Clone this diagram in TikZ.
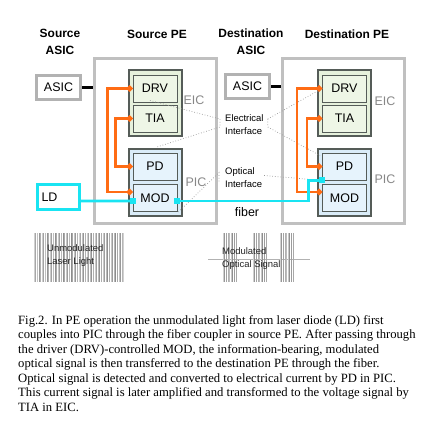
\documentclass[tikz,border=0pt]{standalone}
\usepackage{fontspec}
\setmainfont{Liberation Serif}
\newfontfamily\diagfont{Liberation Sans}
\usetikzlibrary{calc,arrows.meta}
\definecolor{peframe}{RGB}{192,192,192}
\definecolor{asicframe}{RGB}{178,178,178}
\definecolor{modframe}{RGB}{85,92,88}
\definecolor{eicfill}{RGB}{230,241,220}
\definecolor{eicinner}{RGB}{238,246,230}
\definecolor{picfill}{RGB}{218,236,248}
\definecolor{picinner}{RGB}{230,243,252}
\definecolor{elecline}{RGB}{255,108,20}
\definecolor{optline}{RGB}{25,228,242}
\definecolor{tagtext}{RGB}{135,135,135}
\definecolor{hintline}{RGB}{150,150,150}

\begin{document}
\begin{tikzpicture}[x=1bp,y=-1bp,
    every node/.style={font=\diagfont},
    title/.style={font=\diagfont\bfseries\fontsize{12}{17}\selectfont,align=center},
    pebox/.style={draw=peframe,line width=3bp,minimum width=122bp,minimum height=165bp,inner sep=0pt},
    asicbox/.style={draw=asicframe,fill=white,line width=3bp,minimum width=44bp,minimum height=24bp,inner sep=0pt,font=\diagfont\fontsize{12.5}{14}\selectfont},
    eicbox/.style={draw=modframe,fill=eicfill,line width=1.2bp,minimum width=53bp,minimum height=66bp,inner sep=0pt},
    picbox/.style={draw=modframe,fill=picfill,line width=1.2bp,minimum width=53bp,minimum height=67bp,inner sep=0pt},
    eicpart/.style={draw=modframe,fill=eicinner,line width=0.9bp,minimum width=44bp,minimum height=27bp,inner sep=0pt,font=\diagfont\fontsize{12.5}{14}\selectfont},
    picpart/.style={draw=modframe,fill=picinner,line width=0.9bp,minimum width=44bp,minimum height=27bp,inner sep=0pt,font=\diagfont\fontsize{12.5}{14}\selectfont},
    tag/.style={text=tagtext,font=\diagfont\fontsize{12.5}{14}\selectfont,inner sep=0pt},
    wire/.style={draw=elecline,line width=2.6bp,{Circle[length=6bp]}-{Circle[length=6bp]}},
    light/.style={draw=optline,line width=2.6bp},
    lightsq/.style={fill=optline,minimum size=6bp,inner sep=0pt},
    hint/.style={draw=hintline,line width=0.7bp,dotted},
    note/.style={font=\diagfont\fontsize{9.5}{13}\selectfont,align=left,inner sep=0pt,anchor=west}]
  \useasboundingbox (0,0) rectangle (421,421);

  % column titles
  \node[title] (tsasic) at (60,42) {Source\\ASIC};
  \node[title] (tspe) at (157,34) {Source PE};
  \node[title] (tdasic) at (251,42) {Destination\\ASIC};
  \node[title] (tdpe) at (347,34) {Destination PE};

  % PE frames
  \node[pebox] (spe) at (155.5,141) {};
  \node[pebox] (dpe) at (343.5,141) {};

  % ASICs and laser
  \node[asicbox] (sasic) at (58.5,87.5) {ASIC};
  \node[asicbox] (dasic) at (247.5,86.5) {ASIC};
  \draw[line width=3bp] (sasic.east) -- (sasic.east -| spe.west);
  \draw[line width=3bp] (dasic.east) -- (dasic.east -| dpe.west);
  \node[draw=optline,fill=white,line width=3bp,minimum height=25bp,text width=34bp,inner sep=4bp,align=left,
        font=\diagfont\fontsize{12.5}{14}\selectfont] (ld) at (58.5,197) {LD};

  % source PE: EIC and PIC
  \node[eicbox] (seic) at (155.5,103) {};
  \node[eicpart] (sdrv) at (155,88.5) {DRV};
  \node[eicpart] (stia) at (155,118.5) {TIA};
  \node[picbox] (spic) at (155.5,182.5) {};
  \node[picpart] (spd) at (155,166.5) {PD};
  \node[picpart] (smod) at (155,198) {MOD};
  \node[tag] (seictag) at (194,100) {EIC};
  \node[tag] (spictag) at (196,182) {PIC};

  % destination PE: EIC and PIC
  \node[eicbox] (deic) at (344.5,103) {};
  \node[eicpart] (ddrv) at (344.5,88.5) {DRV};
  \node[eicpart] (dtia) at (344.5,118.5) {TIA};
  \node[picbox] (dpic) at (344.5,182.5) {};
  \node[picpart] (dpd) at (344.5,166.5) {PD};
  \node[picpart] (dmod) at (344.5,198) {MOD};
  \node[tag] (deictag) at (385,101) {EIC};
  \node[tag] (dpictag) at (385,179) {PIC};

  % interfaces
  \node[note] (elec) at (225,125) {Electrical\\Interface};
  \node[note] (optic) at (225,177.5) {Optical\\Interface};
  \node[font=\diagfont\fontsize{12.5}{14}\selectfont] (fiber) at (247,212) {fiber};

  \draw[hint] ($(sdrv.south)+(-5,-2)$) -- ($(elec.west)+(-5,-6)$) -- ($(elec.west)+(-5,2)$) -- ($(spic.north)+(0,-1)$);
  \draw[hint] ($(elec.east)+(4,-6)$) -- (ddrv.west);
  \draw[hint] ($(elec.east)+(4,-6)$) -- ($(elec.east)+(4,2)$) -- ($(dpd.north west)+(-2,3)$);
  \draw[hint] ($(smod.south east)+(1,0)$) -- ($(optic.west)+(-6,-5)$) -- ($(optic.west)+(-6,4)$);
  \draw[hint] ($(optic.east)+(2,-2)$) -- (dpd.south west);

  % electrical wiring
  \draw[wire] (sdrv.west) -- ++(-25,0) |- ([yshift=6bp]smod.west);
  \draw[wire] (stia.west) -- ++(-17,0) |- (spd.west);
  \draw[wire] (ddrv.west) -- ++(-25,0) |- ([yshift=6bp]dmod.west);
  \draw[wire] (dtia.west) -- ++(-15,0) |- (dpd.west);

  % optical path
  \draw[light] ([yshift=-4bp]ld.east) -- ([yshift=-3bp]smod.west);
  \draw[light] ([yshift=-3bp]smod.east) -- ++(131,0) |- (dpd.south west);
  \node[lightsq] (sqin) at ([yshift=-3bp]smod.west) {};
  \node[lightsq] (sqout) at ([yshift=-3bp]smod.east) {};
  \node[lightsq] (sqdest) at (dpd.south west) {};

  % light sketches
  \foreach \i in {0,...,56} {
    \pgfmathtruncatemacro\g{18+mod(17*\i,28)}
    \draw[black!\g,line width=0.5bp] ({34+1.6*\i},233) -- ({34+1.6*\i},282);
  }
  \node[note,text=black!85] (unmod) at (47,256) {Unmodulated\\Laser Light};
  \draw[black!30,line width=0.6bp] (208,259) -- (310,259);
  \foreach \s in {223,253,280} {
    \foreach \i in {0,...,8} {
      \pgfmathtruncatemacro\g{18+mod(23*\i,28)}
      \draw[black!\g,line width=0.5bp] ({\s+1.6*\i},233) -- ({\s+1.6*\i},282);
    }
  }
  \node[note,text=black!85] (mod) at (222,258.5) {Modulated\\Optical Signal};

  % caption
  \node[anchor=north west,align=left,inner sep=0pt,font=\rmfamily\fontsize{12.7}{14.6}\selectfont] (caption) at (18,315)
    {Fig.2. In PE operation the unmodulated light from laser diode (LD) first\\
     couples into PIC through the fiber coupler in source PE. After passing through\\
     the driver (DRV)-controlled MOD, the information-bearing, modulated\\
     optical signal is then transferred to the destination PE through the fiber.\\
     Optical signal is detected and converted to electrical current by PD in PIC.\\
     This current signal is later amplified and transformed to the voltage signal by\\
     TIA in EIC.};
\end{tikzpicture}
\end{document}
